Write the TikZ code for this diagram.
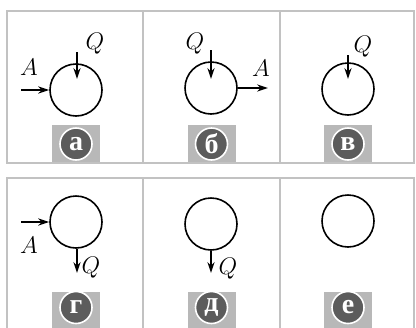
\documentclass[tikz,border=0pt]{standalone}
\usepackage{fontspec}
\usetikzlibrary{arrows.meta}
\newfontfamily\badgefont{Liberation Serif}
\definecolor{framegray}{HTML}{C2C2C2}
\definecolor{tabgray}{HTML}{B8B8B8}
\definecolor{badgegray}{HTML}{5C5C5C}

\begin{document}
\begin{tikzpicture}[
    x=0.5pt, y=-0.5pt,
    >={Stealth[length=5.5pt, width=3.6pt]}, % filled arrow heads
    frame/.style={draw=framegray, line width=1.3pt},
    loopnode/.style={
        circle,
        draw,
        line width=0.8pt,
        minimum size=26pt,
        inner sep=0pt
    },
    flow/.style={->, line width=0.8pt},
    tab/.style={
        fill=tabgray,
        draw=none,
        minimum width=24pt,
        minimum height=19pt,
        inner sep=0pt
    },
    badge/.style={
        circle,
        fill=badgegray,
        draw=white,
        line width=0.8pt,
        minimum size=16pt,
        inner sep=0pt,
        text=white,
        font=\badgefont\bfseries\fontsize{14}{14}\selectfont
    },
    lbl/.style={font=\fontsize{12.5}{14}\selectfont}
]
    \useasboundingbox (0,0) rectangle (416,327);

    % =======================================================
    % LABEL TABS
    % =======================================================
    \node[tab] (tabA) at (76,144) {};
    \node[tab] (tabB) at (211.5,144) {};
    \node[tab] (tabC) at (348,144) {};
    \node[tab] (tabD) at (76,311) {};
    \node[tab] (tabE) at (211.5,311) {};
    \node[tab] (tabF) at (348,311) {};

    % =======================================================
    % FRAMES
    % =======================================================
    \draw[frame] (7,11) rectangle (414,163);
    \draw[frame] (143,11) -- (143,163);
    \draw[frame] (280,11) -- (280,163);
    \draw[frame] (7,330) -- (7,178) -- (414,178) -- (414,330);
    \draw[frame] (143,178) -- (143,330);
    \draw[frame] (280,178) -- (280,330);

    % =======================================================
    % TOP ROW
    % =======================================================
    \node[loopnode] (loopA) at (76,90) {};
    \node[loopnode] (loopB) at (211,88) {};
    \node[loopnode] (loopC) at (348,89) {};

    % (a) input A, output Q
    \coordinate (inA) at (21,90);
    \coordinate (qTopA) at (77,52);
    \coordinate (qEndA) at (77,79);
    \draw[flow] (inA) -- (loopA.west);
    \draw[flow] (qTopA) -- (qEndA);
    \node[lbl] (labAa) at (29,67) {$A$};
    \node[lbl] (labQa) at (95,44) {$Q$};

    % (b) Q in, A out
    \coordinate (qTopB) at (211,50);
    \coordinate (qEndB) at (211,79);
    \coordinate (outB) at (268,88);
    \draw[flow] (qTopB) -- (qEndB);
    \draw[flow] (loopB.east) -- (outB);
    \node[lbl] (labQb) at (195,44) {$Q$};
    \node[lbl] (labAb) at (261,68) {$A$};

    % (c) Q only
    \coordinate (qTopC) at (348,55);
    \coordinate (qEndC) at (348,79);
    \draw[flow] (qTopC) -- (qEndC);
    \node[lbl] (labQc) at (363,47) {$Q$};

    % =======================================================
    % BOTTOM ROW
    % =======================================================
    \node[loopnode] (loopD) at (76,222) {};
    \node[loopnode] (loopE) at (211,224) {};
    \node[loopnode] (loopF) at (348,221) {};

    % (d) A in, Q out at the bottom
    \coordinate (inD) at (21,222);
    \coordinate (qEndD) at (77,273);
    \draw[flow] (inD) -- (loopD.west);
    \draw[flow] ([xshift=0.5pt]loopD.south) -- (qEndD);
    \node[lbl] (labAd) at (29,245) {$A$};
    \node[lbl] (labQd) at (91,268) {$Q$};

    % (e) Q out at the bottom
    \coordinate (qEndE) at (211,273);
    \draw[flow] (loopE.south) -- (qEndE);
    \node[lbl] (labQe) at (228,269) {$Q$};

    % =======================================================
    % BADGES
    % =======================================================
    \node[badge] (bdgA) at (tabA) {а};
    \node[badge] (bdgB) at (tabB) {б};
    \node[badge] (bdgC) at (tabC) {в};
    \node[badge] (bdgD) at (76,307.5) {г};
    \node[badge] (bdgE) at (211.5,307.5) {д};
    \node[badge] (bdgF) at (348,307.5) {е};

\end{tikzpicture}
\end{document}
